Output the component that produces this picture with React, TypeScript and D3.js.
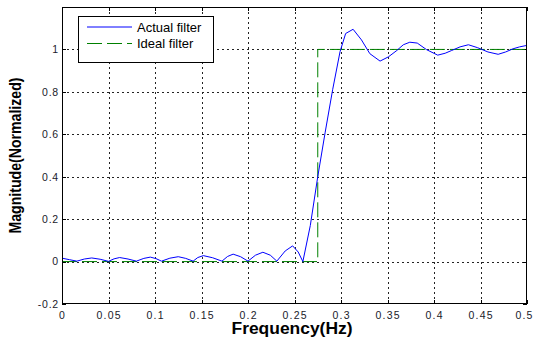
import React, { useRef, useEffect } from 'react';
import * as d3 from 'd3';

// values
const actualFreq = [
  0, 0.008, 0.016, 0.024, 0.032, 0.041, 0.05, 0.056, 0.062, 0.071, 0.08, 0.088, 0.095, 0.101, 0.107,
  0.116, 0.125, 0.133, 0.141, 0.146, 0.152, 0.162, 0.172, 0.178, 0.184, 0.192, 0.2, 0.208, 0.216,
  0.224, 0.231, 0.24, 0.248, 0.254, 0.259, 0.267, 0.275, 0.283, 0.291, 0.299, 0.305, 0.313, 0.322,
  0.331, 0.342, 0.351, 0.36, 0.367, 0.374, 0.382, 0.392, 0.404, 0.412, 0.419, 0.428, 0.437, 0.447,
  0.458, 0.469, 0.477, 0.485, 0.492, 0.5,
];
const actualMag = [
  0.016, 0.009, 0.002, 0.012, 0.017, 0.011, 0.001, 0.013, 0.019, 0.012, 0.002, 0.015, 0.021, 0.014, 0.002,
  0.016, 0.023, 0.015, 0.002, 0.019, 0.028, 0.018, 0.002, 0.024, 0.035, 0.023, 0.002, 0.03, 0.044,
  0.03, 0.002, 0.05, 0.074, 0.045, 0.0, 0.17, 0.4, 0.61, 0.81, 0.99, 1.075, 1.095, 1.045,
  0.98, 0.945, 0.965, 0.995, 1.022, 1.034, 1.03, 0.999, 0.973, 0.982, 0.995, 1.012, 1.022, 1.008,
  0.988, 0.977, 0.988, 1.003, 1.012, 1.019,
];
const idealFreq = [0, 0.275, 0.275, 0.5];
const idealMag = [0, 0, 1, 1];
const xTicks = [0, 0.05, 0.1, 0.15, 0.2, 0.25, 0.3, 0.35, 0.4, 0.45, 0.5];
const yTicks = [-0.2, 0, 0.2, 0.4, 0.6, 0.8, 1];
const legendLabels = ['Actual filter', 'Ideal filter'];

export default function App() {
  const ref = useRef<SVGSVGElement>(null);

  useEffect(() => {
    const W = 535, H = 345;
    const left = 62, right = 527, top = 7, bottom = 304;
    const svg = d3.select(ref.current);
    svg.selectAll('*').remove();

    const x = d3.scaleLinear().domain([0, 0.5]).range([left, right]);
    const y = d3.scaleLinear().domain([-0.2, 1.2]).range([bottom, top]);

    svg.append('rect').attr('width', W).attr('height', H).attr('fill', '#fff');

    // grid
    const grid = svg.append('g').attr('stroke', '#222').attr('stroke-width', 1).attr('stroke-dasharray', '2,3');
    xTicks.slice(1, -1).forEach(t => {
      grid.append('line').attr('x1', Math.round(x(t)) + 0.5).attr('x2', Math.round(x(t)) + 0.5)
        .attr('y1', top).attr('y2', bottom);
    });
    yTicks.slice(1).forEach(t => {
      grid.append('line').attr('y1', Math.round(y(t)) + 0.5).attr('y2', Math.round(y(t)) + 0.5)
        .attr('x1', left).attr('x2', right);
    });

    // ticks on all four sides, pointing in
    const tk = svg.append('g').attr('stroke', '#000').attr('stroke-width', 1);
    xTicks.forEach(t => {
      const px = Math.round(x(t)) + 0.5;
      tk.append('line').attr('x1', px).attr('x2', px).attr('y1', bottom).attr('y2', bottom - 4);
      tk.append('line').attr('x1', px).attr('x2', px).attr('y1', top).attr('y2', top + 4);
    });
    yTicks.forEach(t => {
      const py = Math.round(y(t)) + 0.5;
      tk.append('line').attr('y1', py).attr('y2', py).attr('x1', left).attr('x2', left + 4);
      tk.append('line').attr('y1', py).attr('y2', py).attr('x1', right).attr('x2', right - 4);
    });

    // lines
    const line = d3.line<[number, number]>().x(d => x(d[0])).y(d => y(d[1]));
    const ideal = idealFreq.map((f, i) => [f, idealMag[i]] as [number, number]);
    const actual = actualFreq.map((f, i) => [f, actualMag[i]] as [number, number]);
    svg.append('path').attr('d', line(ideal)).attr('fill', 'none')
      .attr('stroke', '#008000').attr('stroke-width', 1).attr('stroke-dasharray', '15,5');
    svg.append('path').attr('d', line(actual)).attr('fill', 'none')
      .attr('stroke', '#0000ff').attr('stroke-width', 1);

    // frame
    svg.append('rect').attr('x', left + 0.5).attr('y', top + 0.5)
      .attr('width', right - left - 1).attr('height', bottom - top - 1)
      .attr('fill', 'none').attr('stroke', '#000').attr('stroke-width', 1);

    // tick labels
    const font = 'Liberation Sans, Arial, sans-serif';
    svg.append('g').selectAll('text').data(xTicks).join('text')
      .attr('x', d => Math.min(x(d) + 0.6, W - 10.5)).attr('y', bottom + 14.5).attr('text-anchor', 'middle')
      .attr('font-family', font).attr('font-size', 10.5).attr('letter-spacing', 1.2).attr('fill', '#1a1a2a')
      .text(d => String(d));
    svg.append('g').selectAll('text').data(yTicks).join('text')
      .attr('x', left - 3).attr('y', d => y(d) + 3.8).attr('text-anchor', 'end')
      .attr('font-family', font).attr('font-size', 10.5).attr('letter-spacing', 0.8).attr('fill', '#1a1a2a')
      .text(d => String(d));

    // axis titles
    svg.append('text').attr('x', 292).attr('y', 334).attr('text-anchor', 'middle')
      .attr('font-family', font).attr('font-size', 16).attr('font-weight', 'bold')
      .attr('textLength', 121).attr('lengthAdjust', 'spacingAndGlyphs').text('Frequency(Hz)');
    svg.append('text').attr('transform', `translate(21,${(top + bottom) / 2}) rotate(-90)`)
      .attr('text-anchor', 'middle')
      .attr('font-family', font).attr('font-size', 16).attr('font-weight', 'bold')
      .attr('textLength', 156).attr('lengthAdjust', 'spacingAndGlyphs').text('Magnitude(Normalized)');

    // legend
    const lg = svg.append('g');
    lg.append('rect').attr('x', 78.5).attr('y', 16.5).attr('width', 135).attr('height', 46)
      .attr('fill', '#fff').attr('stroke', '#000');
    const colors = ['#0000ff', '#008000'];
    const dashes = [null, '15,5'];
    legendLabels.forEach((lab, i) => {
      const ly = 27 + i * 16.5;
      lg.append('line').attr('x1', 87).attr('x2', 132).attr('y1', ly).attr('y2', ly)
        .attr('stroke', colors[i]).attr('stroke-dasharray', dashes[i]);
      lg.append('text').attr('x', 137).attr('y', ly + 4.8).attr('font-family', font).attr('font-size', 13)
        .text(lab);
    });
  }, []);

  return (
    <svg ref={ref} width={535} height={345} style={{ position: 'absolute', left: 0, top: 0 }} />
  );
}
